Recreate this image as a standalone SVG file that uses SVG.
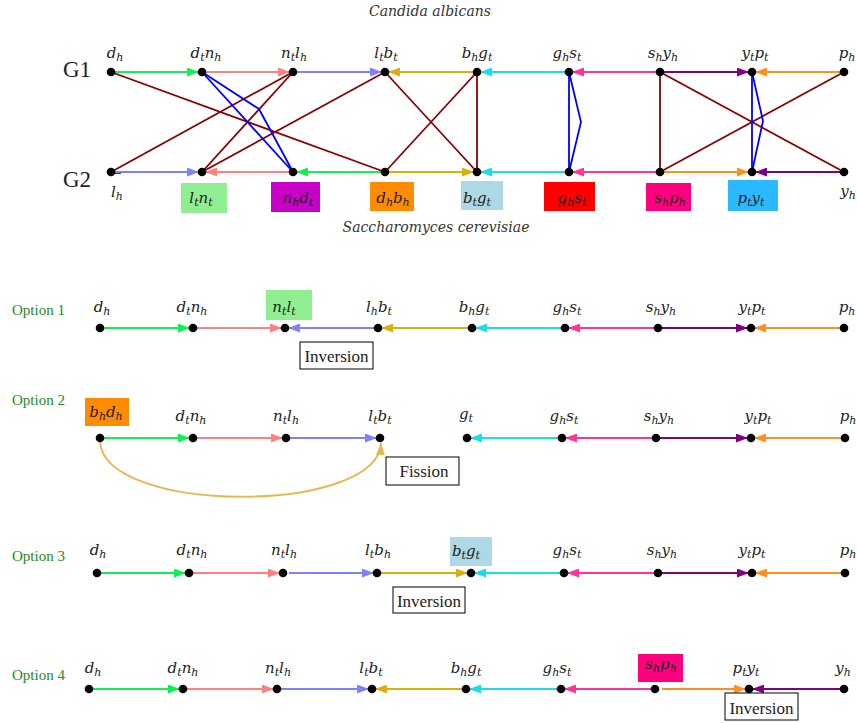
<svg xmlns="http://www.w3.org/2000/svg" width="857" height="723" viewBox="0 0 857 723">
<style>
.e{fill:none;stroke-width:2}
.dr{stroke:#8B0000;stroke-width:1.8;fill:none}
.bl{stroke:#0000FF;stroke-width:1.8;fill:none}
.m{font-family:"DejaVu Serif",serif;font-style:italic;font-size:15px;fill:#222;text-anchor:middle}
.s{font-size:11px}
.ti{font-family:"DejaVu Serif",serif;font-style:italic;font-size:14px;fill:#333;text-anchor:middle}
.g{font-family:"Liberation Serif",serif;font-size:23px;fill:#222}
.opt{font-family:"Liberation Serif",serif;font-size:15px;fill:#228B22}
.box{fill:#fff;stroke:#000;stroke-width:1}
.bt{font-family:"Liberation Serif",serif;font-size:17px;fill:#222;text-anchor:middle}
.gr{stroke:#10F050}.rd{stroke:#FF8080}.bu{stroke:#8080FF}.ye{stroke:#DDAD10}.cy{stroke:#1ADDE8}.pk{stroke:#FF3399}.pu{stroke:#800080}.or{stroke:#FF9020}.ar{stroke:#E8B850}
</style>
<defs>
<marker id="mgr" markerUnits="userSpaceOnUse" markerWidth="12" markerHeight="9" refX="12" refY="4.5" orient="auto"><path d="M0,0 L12,4.5 L0,9 z" fill="#10F050"/></marker>
<marker id="mrd" markerUnits="userSpaceOnUse" markerWidth="12" markerHeight="9" refX="12" refY="4.5" orient="auto"><path d="M0,0 L12,4.5 L0,9 z" fill="#FF8080"/></marker>
<marker id="mbu" markerUnits="userSpaceOnUse" markerWidth="12" markerHeight="9" refX="12" refY="4.5" orient="auto"><path d="M0,0 L12,4.5 L0,9 z" fill="#8080FF"/></marker>
<marker id="mye" markerUnits="userSpaceOnUse" markerWidth="12" markerHeight="9" refX="12" refY="4.5" orient="auto"><path d="M0,0 L12,4.5 L0,9 z" fill="#DDAD10"/></marker>
<marker id="mcy" markerUnits="userSpaceOnUse" markerWidth="12" markerHeight="9" refX="12" refY="4.5" orient="auto"><path d="M0,0 L12,4.5 L0,9 z" fill="#1ADDE8"/></marker>
<marker id="mpk" markerUnits="userSpaceOnUse" markerWidth="12" markerHeight="9" refX="12" refY="4.5" orient="auto"><path d="M0,0 L12,4.5 L0,9 z" fill="#FF3399"/></marker>
<marker id="mpu" markerUnits="userSpaceOnUse" markerWidth="12" markerHeight="9" refX="12" refY="4.5" orient="auto"><path d="M0,0 L12,4.5 L0,9 z" fill="#800080"/></marker>
<marker id="mor" markerUnits="userSpaceOnUse" markerWidth="12" markerHeight="9" refX="12" refY="4.5" orient="auto"><path d="M0,0 L12,4.5 L0,9 z" fill="#FF9020"/></marker>
<marker id="mar" markerUnits="userSpaceOnUse" markerWidth="12" markerHeight="9" refX="12" refY="4.5" orient="auto"><path d="M0,0 L12,4.5 L0,9 z" fill="#E8B850"/></marker>
</defs>
<rect width="857" height="723" fill="#fff"/>

<g id="titles">
<text class="ti" x="430" y="16">Candida albicans</text>
<text class="ti" x="436" y="232">Saccharomyces cerevisiae</text>
<text class="g" x="63" y="77">G1</text>
<text class="g" x="63" y="187">G2</text>
<text class="opt" x="12" y="315">Option 1</text>
<text class="opt" x="12" y="405">Option 2</text>
<text class="opt" x="12" y="561">Option 3</text>
<text class="opt" x="12" y="680">Option 4</text>
</g>

<g id="connectors">
<line class="dr" x1="111" y1="72" x2="385" y2="172"/>
<line class="dr" x1="293" y1="72" x2="111" y2="172"/>
<line class="dr" x1="293" y1="72" x2="202" y2="172"/>
<line class="dr" x1="385" y1="72" x2="202" y2="172"/>
<line class="dr" x1="385" y1="72" x2="477" y2="172"/>
<line class="dr" x1="477" y1="72" x2="385" y2="172"/>
<line class="dr" x1="477" y1="72" x2="477" y2="172"/>
<line class="dr" x1="660" y1="72" x2="660" y2="172"/>
<line class="dr" x1="660" y1="72" x2="844" y2="172"/>
<line class="dr" x1="844" y1="72" x2="660" y2="172"/>
<line class="dr" x1="111" y1="173" x2="121" y2="173" stroke-width="2.5"/>
<line class="bl" x1="202" y1="72" x2="293" y2="172"/>
<polyline class="bl" points="202,72 259,109 293,172"/>
<line class="bl" x1="569" y1="72" x2="569" y2="172"/>
<polyline class="bl" points="569,72 581,122 569,172"/>
<line class="bl" x1="752" y1="72" x2="752" y2="172"/>
<polyline class="bl" points="752,72 763,121 752,172"/>
<line class="e gr" x1="111" y1="72" x2="199" y2="72" marker-end="url(#mgr)"/>
<line class="e rd" x1="202" y1="72" x2="290" y2="72" marker-end="url(#mrd)"/>
<line class="e bu" x1="293" y1="72" x2="382" y2="72" marker-end="url(#mbu)"/>
<line class="e ye" x1="477" y1="72" x2="388" y2="72" marker-end="url(#mye)"/>
<line class="e cy" x1="569" y1="72" x2="480" y2="72" marker-end="url(#mcy)"/>
<line class="e pk" x1="660" y1="72" x2="572" y2="72" marker-end="url(#mpk)"/>
<line class="e pu" x1="660" y1="72" x2="749" y2="72" marker-end="url(#mpu)"/>
<line class="e or" x1="844" y1="72" x2="755" y2="72" marker-end="url(#mor)"/>
<line class="e bu" x1="111" y1="172" x2="199" y2="172" marker-end="url(#mbu)"/>
<line class="e rd" x1="293" y1="172" x2="205" y2="172" marker-end="url(#mrd)"/>
<line class="e gr" x1="385" y1="172" x2="296" y2="172" marker-end="url(#mgr)"/>
<line class="e ye" x1="385" y1="172" x2="474" y2="172" marker-end="url(#mye)"/>
<line class="e cy" x1="569" y1="172" x2="480" y2="172" marker-end="url(#mcy)"/>
<line class="e pk" x1="660" y1="172" x2="572" y2="172" marker-end="url(#mpk)"/>
<line class="e or" x1="660" y1="172" x2="749" y2="172" marker-end="url(#mor)"/>
<line class="e pu" x1="844" y1="172" x2="755" y2="172" marker-end="url(#mpu)"/>
<line class="e gr" x1="100" y1="328" x2="190" y2="328" marker-end="url(#mgr)"/>
<line class="e rd" x1="193" y1="328" x2="282" y2="328" marker-end="url(#mrd)"/>
<line class="e bu" x1="378" y1="328" x2="288" y2="328" marker-end="url(#mbu)"/>
<line class="e ye" x1="472" y1="328" x2="381" y2="328" marker-end="url(#mye)"/>
<line class="e cy" x1="565" y1="328" x2="475" y2="328" marker-end="url(#mcy)"/>
<line class="e pk" x1="658" y1="328" x2="568" y2="328" marker-end="url(#mpk)"/>
<line class="e pu" x1="658" y1="328" x2="748" y2="328" marker-end="url(#mpu)"/>
<line class="e or" x1="844" y1="328" x2="754" y2="328" marker-end="url(#mor)"/>
<line class="e gr" x1="100" y1="438" x2="190" y2="438" marker-end="url(#mgr)"/>
<line class="e rd" x1="193" y1="438" x2="283" y2="438" marker-end="url(#mrd)"/>
<line class="e bu" x1="286" y1="438" x2="377" y2="438" marker-end="url(#mbu)"/>
<path class="e ar" d="M100,441 C103,515 378,515 381,443" marker-end="url(#mar)"/>
<line class="e cy" x1="562" y1="438" x2="470" y2="438" marker-end="url(#mcy)"/>
<line class="e pk" x1="656" y1="438" x2="565" y2="438" marker-end="url(#mpk)"/>
<line class="e pu" x1="656" y1="438" x2="748" y2="438" marker-end="url(#mpu)"/>
<line class="e or" x1="845" y1="438" x2="754" y2="438" marker-end="url(#mor)"/>
<line class="e gr" x1="97" y1="573" x2="186" y2="573" marker-end="url(#mgr)"/>
<line class="e rd" x1="189" y1="573" x2="280" y2="573" marker-end="url(#mrd)"/>
<line class="e bu" x1="289" y1="573" x2="374" y2="573" marker-end="url(#mbu)"/>
<line class="e ye" x1="377" y1="573" x2="468" y2="573" marker-end="url(#mye)"/>
<line class="e cy" x1="564" y1="573" x2="474" y2="573" marker-end="url(#mcy)"/>
<line class="e pk" x1="658" y1="573" x2="567" y2="573" marker-end="url(#mpk)"/>
<line class="e pu" x1="658" y1="573" x2="749" y2="573" marker-end="url(#mpu)"/>
<line class="e or" x1="845" y1="573" x2="755" y2="573" marker-end="url(#mor)"/>
<line class="e gr" x1="89" y1="689" x2="180" y2="689" marker-end="url(#mgr)"/>
<line class="e rd" x1="183" y1="689" x2="274" y2="689" marker-end="url(#mrd)"/>
<line class="e bu" x1="277" y1="689" x2="369" y2="689" marker-end="url(#mbu)"/>
<line class="e ye" x1="466" y1="689" x2="375" y2="689" marker-end="url(#mye)"/>
<line class="e cy" x1="561" y1="689" x2="469" y2="689" marker-end="url(#mcy)"/>
<line class="e pk" x1="655" y1="689" x2="564" y2="689" marker-end="url(#mpk)"/>
<line class="e or" x1="662" y1="689" x2="746" y2="689" marker-end="url(#mor)"/>
<line class="e pu" x1="844" y1="689" x2="752" y2="689" marker-end="url(#mpu)"/>
</g>

<g id="operations">
<g id="op1"><rect class="box" x="300" y="342" width="73" height="27"/><text class="bt" x="336.5" y="362">Inversion</text></g>
<g id="op2"><rect class="box" x="386" y="457" width="73" height="28"/><text class="bt" x="424" y="477">Fission</text></g>
<g id="op3"><rect class="box" x="393" y="587" width="72" height="26"/><text class="bt" x="429" y="607">Inversion</text></g>
<g id="op4"><rect class="box" x="725" y="693" width="73" height="27"/><text class="bt" x="761.5" y="714">Inversion</text></g>
</g>

<g id="g1-1"><circle cx="111" cy="72" r="4.3"/><text class="m" x="115" y="58">d<tspan class="s" dy="3">h</tspan></text></g>
<g id="g1-2"><circle cx="202" cy="72" r="4.3"/><text class="m" x="206" y="58">d<tspan class="s" dy="3">t</tspan><tspan dy="-3">n</tspan><tspan class="s" dy="3">h</tspan></text></g>
<g id="g1-3"><circle cx="293" cy="72" r="4.3"/><text class="m" x="294" y="58">n<tspan class="s" dy="3">t</tspan><tspan dy="-3">l</tspan><tspan class="s" dy="3">h</tspan></text></g>
<g id="g1-4"><circle cx="385" cy="72" r="4.3"/><text class="m" x="386" y="58">l<tspan class="s" dy="3">t</tspan><tspan dy="-3">b</tspan><tspan class="s" dy="3">t</tspan></text></g>
<g id="g1-5"><circle cx="477" cy="72" r="4.3"/><text class="m" x="477" y="58">b<tspan class="s" dy="3">h</tspan><tspan dy="-3">g</tspan><tspan class="s" dy="3">t</tspan></text></g>
<g id="g1-6"><circle cx="569" cy="72" r="4.3"/><text class="m" x="567" y="58">g<tspan class="s" dy="3">h</tspan><tspan dy="-3">s</tspan><tspan class="s" dy="3">t</tspan></text></g>
<g id="g1-7"><circle cx="660" cy="72" r="4.3"/><text class="m" x="663" y="58">s<tspan class="s" dy="3">h</tspan><tspan dy="-3">y</tspan><tspan class="s" dy="3">h</tspan></text></g>
<g id="g1-8"><circle cx="752" cy="72" r="4.3"/><text class="m" x="755" y="58">y<tspan class="s" dy="3">t</tspan><tspan dy="-3">p</tspan><tspan class="s" dy="3">t</tspan></text></g>
<g id="g1-9"><circle cx="844" cy="72" r="4.3"/><text class="m" x="847" y="58">p<tspan class="s" dy="3">h</tspan></text></g>

<g id="g2-1"><circle cx="111" cy="172" r="4.3"/><text class="m" x="117" y="197">l<tspan class="s" dy="3">h</tspan></text></g>
<g id="g2-2"><rect x="181" y="183" width="46" height="30" fill="#90EE90"/><circle cx="202" cy="172" r="4.3"/><text class="m" x="201" y="203">l<tspan class="s" dy="3">t</tspan><tspan dy="-3">n</tspan><tspan class="s" dy="3">t</tspan></text></g>
<g id="g2-3"><rect x="271" y="182" width="49" height="30" fill="#C800C8"/><circle cx="293" cy="172" r="4.3"/><text class="m" x="298" y="203">n<tspan class="s" dy="3">h</tspan><tspan dy="-3">d</tspan><tspan class="s" dy="3">t</tspan></text></g>
<g id="g2-4"><rect x="370" y="182" width="44" height="29" fill="#FF8C00"/><circle cx="385" cy="172" r="4.3"/><text class="m" x="393" y="203">d<tspan class="s" dy="3">h</tspan><tspan dy="-3">b</tspan><tspan class="s" dy="3">h</tspan></text></g>
<g id="g2-5"><rect x="461" y="181" width="42" height="29" fill="#ADD8E6"/><circle cx="477" cy="172" r="4.3"/><text class="m" x="477" y="203">b<tspan class="s" dy="3">t</tspan><tspan dy="-3">g</tspan><tspan class="s" dy="3">t</tspan></text></g>
<g id="g2-6"><rect x="544" y="182" width="51" height="29" fill="#FF0000"/><circle cx="569" cy="172" r="4.3"/><text class="m" x="572" y="203">g<tspan class="s" dy="3">h</tspan><tspan dy="-3">s</tspan><tspan class="s" dy="3">t</tspan></text></g>
<g id="g2-7"><rect x="646" y="183" width="45" height="28" fill="#FF0080"/><circle cx="660" cy="172" r="4.3"/><text class="m" x="670" y="203">s<tspan class="s" dy="3">h</tspan><tspan dy="-3">p</tspan><tspan class="s" dy="3">h</tspan></text></g>
<g id="g2-8"><rect x="728" y="180" width="50" height="31" fill="#2AB8FF"/><circle cx="752" cy="172" r="4.3"/><text class="m" x="751" y="203">p<tspan class="s" dy="3">t</tspan><tspan dy="-3">y</tspan><tspan class="s" dy="3">t</tspan></text></g>
<g id="g2-9"><circle cx="844" cy="172" r="4.3"/><text class="m" x="848" y="196">y<tspan class="s" dy="3">h</tspan></text></g>

<g id="o1-1"><circle cx="100" cy="328" r="4.3"/><text class="m" x="102" y="312">d<tspan class="s" dy="3">h</tspan></text></g>
<g id="o1-2"><circle cx="193" cy="328" r="4.3"/><text class="m" x="192" y="312">d<tspan class="s" dy="3">t</tspan><tspan dy="-3">n</tspan><tspan class="s" dy="3">h</tspan></text></g>
<g id="o1-3"><rect x="266" y="290" width="46" height="30" fill="#90EE90"/><circle cx="285" cy="328" r="4.3"/><text class="m" x="284" y="312">n<tspan class="s" dy="3">t</tspan><tspan dy="-3">l</tspan><tspan class="s" dy="3">t</tspan></text></g>
<g id="o1-4"><circle cx="378" cy="328" r="4.3"/><text class="m" x="379" y="312">l<tspan class="s" dy="3">h</tspan><tspan dy="-3">b</tspan><tspan class="s" dy="3">t</tspan></text></g>
<g id="o1-5"><circle cx="472" cy="328" r="4.3"/><text class="m" x="474" y="312">b<tspan class="s" dy="3">h</tspan><tspan dy="-3">g</tspan><tspan class="s" dy="3">t</tspan></text></g>
<g id="o1-6"><circle cx="565" cy="328" r="4.3"/><text class="m" x="567" y="312">g<tspan class="s" dy="3">h</tspan><tspan dy="-3">s</tspan><tspan class="s" dy="3">t</tspan></text></g>
<g id="o1-7"><circle cx="658" cy="328" r="4.3"/><text class="m" x="661" y="312">s<tspan class="s" dy="3">h</tspan><tspan dy="-3">y</tspan><tspan class="s" dy="3">h</tspan></text></g>
<g id="o1-8"><circle cx="751" cy="328" r="4.3"/><text class="m" x="752" y="312">y<tspan class="s" dy="3">t</tspan><tspan dy="-3">p</tspan><tspan class="s" dy="3">t</tspan></text></g>
<g id="o1-9"><circle cx="844" cy="328" r="4.3"/><text class="m" x="847" y="312">p<tspan class="s" dy="3">h</tspan></text></g>

<g id="o2-1"><rect x="85" y="398" width="44" height="28" fill="#FF8C00"/><circle cx="100" cy="438" r="4.3"/><text class="m" x="106" y="417">b<tspan class="s" dy="3">h</tspan><tspan dy="-3">d</tspan><tspan class="s" dy="3">h</tspan></text></g>
<g id="o2-2"><circle cx="193" cy="438" r="4.3"/><text class="m" x="191" y="421">d<tspan class="s" dy="3">t</tspan><tspan dy="-3">n</tspan><tspan class="s" dy="3">h</tspan></text></g>
<g id="o2-3"><circle cx="286" cy="438" r="4.3"/><text class="m" x="286" y="421">n<tspan class="s" dy="3">t</tspan><tspan dy="-3">l</tspan><tspan class="s" dy="3">h</tspan></text></g>
<g id="o2-4"><circle cx="380" cy="438" r="4.3"/><text class="m" x="380" y="421">l<tspan class="s" dy="3">t</tspan><tspan dy="-3">b</tspan><tspan class="s" dy="3">t</tspan></text></g>
<g id="o2-5"><circle cx="467" cy="438" r="4.3"/><text class="m" x="466" y="419">g<tspan class="s" dy="3">t</tspan></text></g>
<g id="o2-6"><circle cx="562" cy="438" r="4.3"/><text class="m" x="564" y="421">g<tspan class="s" dy="3">h</tspan><tspan dy="-3">s</tspan><tspan class="s" dy="3">t</tspan></text></g>
<g id="o2-7"><circle cx="656" cy="438" r="4.3"/><text class="m" x="659" y="421">s<tspan class="s" dy="3">h</tspan><tspan dy="-3">y</tspan><tspan class="s" dy="3">h</tspan></text></g>
<g id="o2-8"><circle cx="751" cy="438" r="4.3"/><text class="m" x="758" y="421">y<tspan class="s" dy="3">t</tspan><tspan dy="-3">p</tspan><tspan class="s" dy="3">t</tspan></text></g>
<g id="o2-9"><circle cx="845" cy="438" r="4.3"/><text class="m" x="848" y="421">p<tspan class="s" dy="3">h</tspan></text></g>

<g id="o3-1"><circle cx="97" cy="573" r="4.3"/><text class="m" x="98" y="555">d<tspan class="s" dy="3">h</tspan></text></g>
<g id="o3-2"><circle cx="189" cy="573" r="4.3"/><text class="m" x="192" y="555">d<tspan class="s" dy="3">t</tspan><tspan dy="-3">n</tspan><tspan class="s" dy="3">h</tspan></text></g>
<g id="o3-3"><circle cx="283" cy="573" r="4.3"/><text class="m" x="284" y="555">n<tspan class="s" dy="3">t</tspan><tspan dy="-3">l</tspan><tspan class="s" dy="3">h</tspan></text></g>
<g id="o3-4"><circle cx="377" cy="573" r="4.3"/><text class="m" x="378" y="555">l<tspan class="s" dy="3">t</tspan><tspan dy="-3">b</tspan><tspan class="s" dy="3">h</tspan></text></g>
<g id="o3-5"><rect x="450" y="537" width="42" height="29" fill="#ADD8E6"/><circle cx="471" cy="573" r="4.3"/><text class="m" x="466" y="556">b<tspan class="s" dy="3">t</tspan><tspan dy="-3">g</tspan><tspan class="s" dy="3">t</tspan></text></g>
<g id="o3-6"><circle cx="564" cy="573" r="4.3"/><text class="m" x="567" y="555">g<tspan class="s" dy="3">h</tspan><tspan dy="-3">s</tspan><tspan class="s" dy="3">t</tspan></text></g>
<g id="o3-7"><circle cx="658" cy="573" r="4.3"/><text class="m" x="662" y="555">s<tspan class="s" dy="3">h</tspan><tspan dy="-3">y</tspan><tspan class="s" dy="3">h</tspan></text></g>
<g id="o3-8"><circle cx="752" cy="573" r="4.3"/><text class="m" x="752" y="555">y<tspan class="s" dy="3">t</tspan><tspan dy="-3">p</tspan><tspan class="s" dy="3">t</tspan></text></g>
<g id="o3-9"><circle cx="845" cy="573" r="4.3"/><text class="m" x="848" y="555">p<tspan class="s" dy="3">h</tspan></text></g>

<g id="o4-1"><circle cx="89" cy="689" r="4.3"/><text class="m" x="93" y="673">d<tspan class="s" dy="3">h</tspan></text></g>
<g id="o4-2"><circle cx="183" cy="689" r="4.3"/><text class="m" x="183" y="673">d<tspan class="s" dy="3">t</tspan><tspan dy="-3">n</tspan><tspan class="s" dy="3">h</tspan></text></g>
<g id="o4-3"><circle cx="277" cy="689" r="4.3"/><text class="m" x="278" y="673">n<tspan class="s" dy="3">t</tspan><tspan dy="-3">l</tspan><tspan class="s" dy="3">h</tspan></text></g>
<g id="o4-4"><circle cx="372" cy="689" r="4.3"/><text class="m" x="371" y="673">l<tspan class="s" dy="3">t</tspan><tspan dy="-3">b</tspan><tspan class="s" dy="3">t</tspan></text></g>
<g id="o4-5"><circle cx="466" cy="689" r="4.3"/><text class="m" x="466" y="673">b<tspan class="s" dy="3">h</tspan><tspan dy="-3">g</tspan><tspan class="s" dy="3">t</tspan></text></g>
<g id="o4-6"><circle cx="561" cy="689" r="4.3"/><text class="m" x="557" y="673">g<tspan class="s" dy="3">h</tspan><tspan dy="-3">s</tspan><tspan class="s" dy="3">t</tspan></text></g>
<g id="o4-7"><rect x="638" y="654" width="45" height="28" fill="#FF0080"/><circle cx="655" cy="689" r="4.3"/><text class="m" x="661" y="669">s<tspan class="s" dy="3">h</tspan><tspan dy="-3">p</tspan><tspan class="s" dy="3">h</tspan></text></g>
<g id="o4-8"><circle cx="749" cy="689" r="4.3"/><text class="m" x="746" y="673">p<tspan class="s" dy="3">t</tspan><tspan dy="-3">y</tspan><tspan class="s" dy="3">t</tspan></text></g>
<g id="o4-9"><circle cx="844" cy="689" r="4.3"/><text class="m" x="843" y="673">y<tspan class="s" dy="3">h</tspan></text></g>
</svg>
